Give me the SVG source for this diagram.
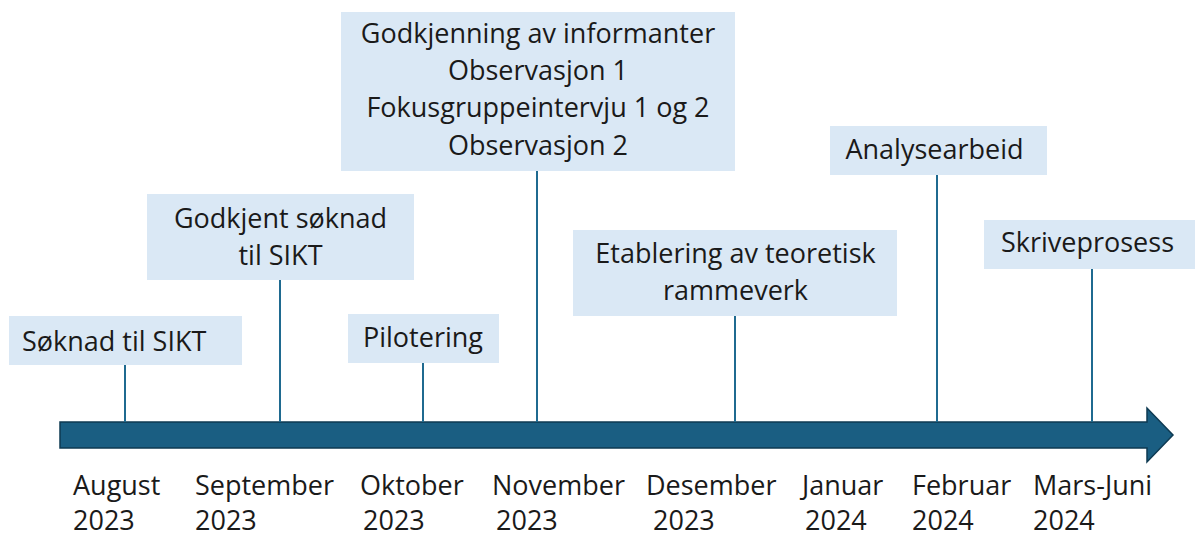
<svg xmlns="http://www.w3.org/2000/svg" width="1195" height="537" viewBox="0 0 1195 537">
<style>
.box{fill:#DAE8F5;}
.t{font-family:"Open Sans","Liberation Sans",sans-serif;font-size:27px;fill:#1a1a1a;}
.c{text-anchor:middle;}
.lbl{font-family:"Open Sans","Liberation Sans",sans-serif;font-size:27px;fill:#1a1a1a;}
.con line{stroke:#1F6A90;stroke-width:2;}
</style>
<rect width="1195" height="537" fill="#ffffff"/>
<g id="timeline">
<path d="M60,422 H1147 V408 L1173,435 L1147,462 V448 H60 Z" fill="#1A5E82" stroke="#0E3A52" stroke-width="1.5"/>
</g>
<g id="connectors" class="con">
<line x1="125" y1="365" x2="125" y2="422"/>
<line x1="280" y1="280" x2="280" y2="422"/>
<line x1="423" y1="363" x2="423" y2="422"/>
<line x1="537" y1="171" x2="537" y2="422"/>
<line x1="735" y1="316" x2="735" y2="422"/>
<line x1="937" y1="175" x2="937" y2="422"/>
<line x1="1092" y1="269" x2="1092" y2="422"/>
</g>
<g id="node-soknad">
<rect class="box" x="9" y="316" width="233" height="49"/>
<text class="t" x="22" y="351">Søknad til SIKT</text>
</g>
<g id="node-godkjent">
<rect class="box" x="147" y="194" width="267" height="86"/>
<text class="t c" x="280.5" y="228">Godkjent søknad</text>
<text class="t c" x="280.5" y="265">til SIKT</text>
</g>
<g id="node-pilotering">
<rect class="box" x="348" y="314" width="151" height="49"/>
<text class="t c" x="423" y="347">Pilotering</text>
</g>
<g id="node-main">
<rect class="box" x="341" y="12" width="394" height="159"/>
<text class="t c" x="538" y="43">Godkjenning av informanter</text>
<text class="t c" x="538" y="80">Observasjon 1</text>
<text class="t c" x="538" y="117">Fokusgruppeintervju 1 og 2</text>
<text class="t c" x="538" y="155">Observasjon 2</text>
</g>
<g id="node-etablering">
<rect class="box" x="573" y="230" width="324" height="86"/>
<text class="t c" x="735.5" y="263">Etablering av teoretisk</text>
<text class="t c" x="735.5" y="300">rammeverk</text>
</g>
<g id="node-analyse">
<rect class="box" x="830" y="126" width="217" height="49"/>
<text class="t c" x="934.5" y="159">Analysearbeid</text>
</g>
<g id="node-skrive">
<rect class="box" x="984" y="220" width="211" height="49"/>
<text class="t c" x="1087.5" y="252">Skriveprosess</text>
</g>
<g id="month-labels">
<text class="lbl" x="73" y="495">August</text><text class="lbl" x="73" y="530">2023</text>
<text class="lbl" x="195" y="495">September</text><text class="lbl" x="195" y="530">2023</text>
<text class="lbl" x="360" y="495">Oktober</text><text class="lbl" x="363" y="530">2023</text>
<text class="lbl" x="492" y="495">November</text><text class="lbl" x="496" y="530">2023</text>
<text class="lbl" x="646" y="495">Desember</text><text class="lbl" x="653" y="530">2023</text>
<text class="lbl" x="802" y="495">Januar</text><text class="lbl" x="805" y="530">2024</text>
<text class="lbl" x="912" y="495">Februar</text><text class="lbl" x="912" y="530">2024</text>
<text class="lbl" x="1033" y="495">Mars-Juni</text><text class="lbl" x="1033" y="530">2024</text>
</g>
</svg>
